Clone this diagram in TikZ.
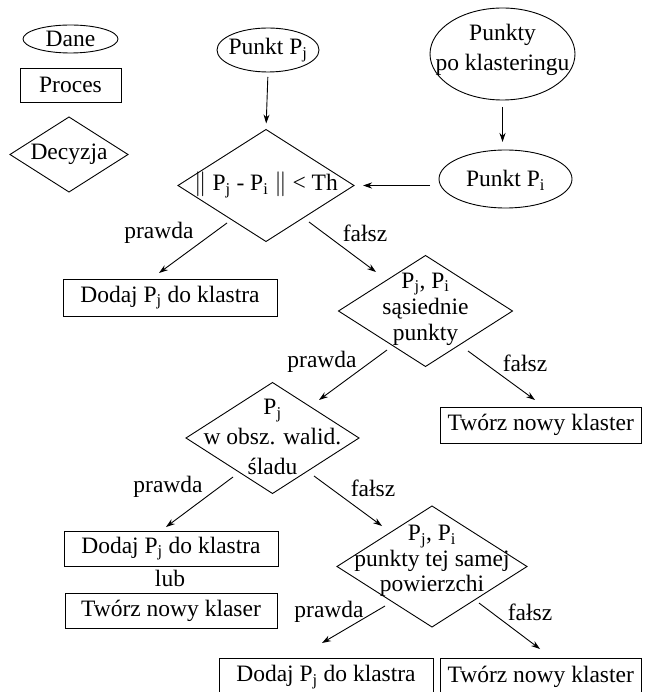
\documentclass[tikz,border=0pt]{standalone}
\usepackage{fontspec}
\setmainfont{Liberation Serif}
\usetikzlibrary{shapes.geometric,arrows.meta}
\begin{document}
\begin{tikzpicture}[x=1pt,y=-1pt,
  every node/.style={font=\rmfamily\fontsize{23.5}{26}\selectfont},
  line width=0.9pt,
  shp/.style={draw, inner sep=0pt, outer sep=0pt},
  dat/.style={shp, ellipse},
  proc/.style={shp, rectangle},
  dec/.style={shp, diamond},
  txt/.style={inner sep=0pt, align=center},
  arr/.style={-{Stealth[length=9pt,width=6pt]}},
]
\useasboundingbox (0,0) rectangle (644,692);
\clip (0,0) rectangle (644,692);

% legend
\node[dat, minimum width=95pt, minimum height=28pt] (ldat) at (70.5,39) {};
\node[txt] (ldat-t) at (ldat) {Dane};
\node[proc, minimum width=101pt, minimum height=34pt] (lproc) at (70.5,85) {};
\node[txt] (lproc-t) at (lproc) {Proces};
\node[dec, minimum width=118pt, minimum height=75pt] (ldec) at (69,154.5) {};
\node[txt] (ldec-t) at (ldec) {Decyzja};

% inputs
\node[dat, minimum width=102pt, minimum height=44pt] (pj) at (268,50) {};
\node[txt] (pj-t) at (268,50) {Punkt P\textsubscript{j}};
\node[dat, minimum width=145pt, minimum height=92pt] (pk) at (502.5,54) {};
\node[txt, font=\rmfamily\fontsize{23.5}{30}\selectfont] (pk-t) at (502.5,50) {Punkty\\po klasteringu};
\node[dat, minimum width=133pt, minimum height=58pt] (pi) at (505.5,179) {};
\node[txt] (pi-t) at (505.5,180) {Punkt P\textsubscript{i}};

% decision 1
\node[dec, minimum width=176pt, minimum height=112pt] (d1) at (266,185.5) {};
\node[txt] (d1-t) at (266,185) {$\Vert$ P\textsubscript{j} - P\textsubscript{i} $\Vert$ < Th};

\node[proc, minimum width=214pt, minimum height=37pt] (b1) at (170,297.5) {};
\node[txt] (b1-t) at (b1) {Dodaj P\textsubscript{j} do klastra};

% decision 2
\node[dec, minimum width=174pt, minimum height=111pt] (d2) at (425.5,311) {};
\node[txt] (d2-t) at (425.5,309) {P\textsubscript{j}, P\textsubscript{i}\\sąsiednie\\punkty};

\node[proc, minimum width=201.5pt, minimum height=36pt] (t1) at (540.75,425) {};
\node[txt] (t1-t) at (t1) {Twórz nowy klaster};

% decision 3
\node[dec, minimum width=173pt, minimum height=111pt] (d3) at (272.5,438) {};
\node[txt, font=\rmfamily\fontsize{23.5}{30}\selectfont] (d3-t) at (272.5,437) {P\textsubscript{j}\\w obsz. walid.\\śladu};

\node[proc, minimum width=214pt, minimum height=35pt] (b2) at (171,548.5) {};
\node[txt] (b2-t) at (b2) {Dodaj P\textsubscript{j} do klastra};
\node[txt] (lub) at (170,578) {lub};
\node[proc, minimum width=212pt, minimum height=35pt] (b3) at (171,610.5) {};
\node[txt] (b3-t) at (b3) {Twórz nowy klaser};

% decision 4
\node[dec, minimum width=190pt, minimum height=121pt] (d4) at (432,566.5) {};
\node[txt, font=\rmfamily\fontsize{23.5}{25.5}\selectfont] (d4-t) at (432,561) {P\textsubscript{j}, P\textsubscript{i}\\punkty tej samej\\powierzchi};

\node[proc, minimum width=214pt, minimum height=38pt] (b4) at (326,677) {};
\node[txt] (b4-t) at (b4) {Dodaj P\textsubscript{j} do klastra};
\node[proc, minimum width=201.5pt, minimum height=38pt] (b5) at (540.75,677) {};
\node[txt] (b5-t) at (b5) {Twórz nowy klaster};

% labels
\node[txt] (l1p) at (159,233) {prawda};
\node[txt] (l1f) at (365,233) {fałsz};
\node[txt] (l2p) at (322,362) {prawda};
\node[txt] (l2f) at (525,363) {fałsz};
\node[txt] (l3p) at (168,487) {prawda};
\node[txt] (l3f) at (373,488) {fałsz};
\node[txt] (l4p) at (329,612) {prawda};
\node[txt] (l4f) at (530,612) {fałsz};

% connector end points
\coordinate (a1s) at (227,223); \coordinate (a1e) at (159,273);
\coordinate (a2s) at (309,222); \coordinate (a2e) at (376,272);
\coordinate (a3s) at (387,350); \coordinate (a3e) at (319,400);
\coordinate (a4s) at (468,351); \coordinate (a4e) at (535,400);
\coordinate (a5s) at (233,477); \coordinate (a5e) at (166,527);
\coordinate (a6s) at (314,476); \coordinate (a6e) at (382,526);
\coordinate (a7s) at (385,606); \coordinate (a7e) at (322,643);
\coordinate (a8s) at (479,603); \coordinate (a8e) at (540,649);

% connectors
\draw[arr, shorten <=5pt, shorten >=6pt] (pj.south) -- (d1.north);
\draw[arr, shorten <=7pt, shorten >=8pt] (pk.south) -- (pk.south |- pi.north);
\draw[arr, shorten <=9pt, shorten >=9pt] (pi.west |- d1.east) -- (d1.east);
\draw[arr] (a1s) -- (a1e);
\draw[arr] (a2s) -- (a2e);
\draw[arr] (a3s) -- (a3e);
\draw[arr] (a4s) -- (a4e);
\draw[arr] (a5s) -- (a5e);
\draw[arr] (a6s) -- (a6e);
\draw[arr] (a7s) -- (a7e);
\draw[arr] (a8s) -- (a8e);
\end{tikzpicture}
\end{document}
